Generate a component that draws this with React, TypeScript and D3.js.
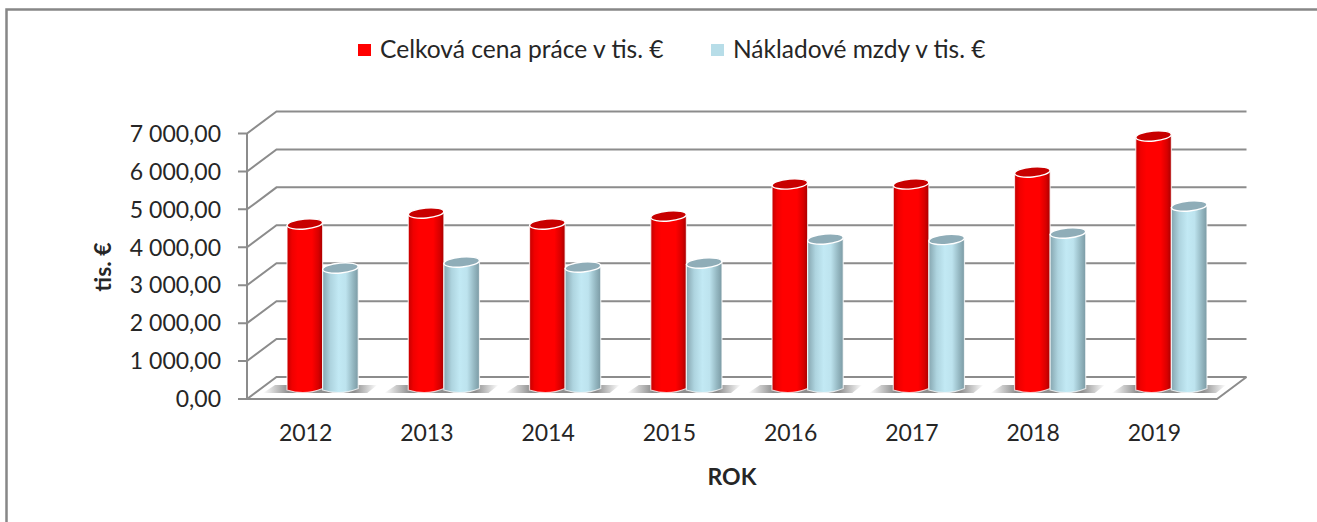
import React from "react";
import * as d3 from "d3";

const years = ["2012", "2013", "2014", "2015", "2016", "2017", "2018", "2019"];
const celkovaCena = [4316, 4605, 4316, 4526, 5370, 5370, 5684, 6632];
const nakladoveMzdy = [3158, 3316, 3184, 3290, 3920, 3910, 4079, 4789];
const tickValues = [0, 1000, 2000, 3000, 4000, 5000, 6000, 7000];
const tickLabels = ["0,00", "1 000,00", "2 000,00", "3 000,00", "4 000,00", "5 000,00", "6 000,00", "7 000,00"];
const seriesNames = ["Celková cena práce v tis. €", "Nákladové mzdy v tis. €"];

const W = 1317, H = 522;
const FONT = "Lato, Carlito, 'Open Sans', sans-serif";
const GRID = "#8c8c8c";
const TEXT = "#262626";

const frontLeft = 247, frontRight = 1217;
const dx = 29.5, dy = -22;
const yFront = d3.scaleLinear().domain([0, 7000]).range([399, 133.5]);
const yBar = d3.scaleLinear().domain([0, 7000]).range([388, 122]);
const xFront = d3.scaleBand().domain(years).range([frontLeft, frontRight]);
const xBar = d3.scaleBand().domain(years).range([frontLeft + 15, frontRight + 15]);
const barW = 35.6;
const RY = 5;

function Bar({ x, value, side, dark }: { x: number; value: number; side: string; dark: string }) {
  const top = yBar(value);
  const base = yBar(0) + 2;
  const rx = barW / 2;
  const cx = x + rx;
  const body = `M${x},${top + 1.5} L${x},${base} Q${x + rx},${base + 6} ${x + barW},${base - 1.5} L${x + barW},${top - 1.5} Z`;
  return (
    <g>
      <path d={body} fill={`url(#${side})`} stroke="#ffffff" strokeOpacity={0.75} strokeWidth={1.2} />
      <ellipse cx={cx} cy={top} rx={rx} ry={RY} fill={dark} stroke="#ffffff" strokeWidth={1.4}
        transform={`rotate(-5 ${cx} ${top})`} />
    </g>
  );
}

export default function App() {
  return (
    <svg width={W} height={H} viewBox={`0 0 ${W} ${H}`}
      style={{ position: "absolute", left: 0, top: 0, display: "block", background: "#fff" }}>
      <defs>
        <linearGradient id="redBar" x1="0" x2="1" y1="0" y2="0">
          <stop offset="0" stopColor="#c40000" />
          <stop offset="0.14" stopColor="#f00000" />
          <stop offset="0.3" stopColor="#ff0000" />
          <stop offset="0.7" stopColor="#ff0000" />
          <stop offset="0.88" stopColor="#d80000" />
          <stop offset="1" stopColor="#a80000" />
        </linearGradient>
        <linearGradient id="blueBar" x1="0" x2="1" y1="0" y2="0">
          <stop offset="0" stopColor="#86a6b0" />
          <stop offset="0.22" stopColor="#aed4df" />
          <stop offset="0.45" stopColor="#c2e9f4" />
          <stop offset="0.65" stopColor="#bde3ee" />
          <stop offset="0.85" stopColor="#95b8c2" />
          <stop offset="1" stopColor="#7b9aa4" />
        </linearGradient>
        <linearGradient id="floorShadow" x1="0" x2="1" y1="0" y2="0">
          <stop offset="0" stopColor="#8f8f8f" stopOpacity={0} />
          <stop offset="0.22" stopColor="#8f8f8f" />
          <stop offset="0.8" stopColor="#8f8f8f" />
          <stop offset="1" stopColor="#8f8f8f" stopOpacity={0} />
        </linearGradient>
      </defs>

      {/* outer frame */}
      <path d={`M${W},9.5 L6.5,9.5 L6.5,${H}`} fill="none" stroke="#878787" strokeWidth={2.5} />

      {/* back wall gridlines */}
      {tickValues.map((t) => {
        const y = yFront(t);
        return (
          <path key={t} fill="none" stroke={GRID} strokeWidth={2}
            d={`M${frontLeft - 9},${y} L${frontLeft},${y} L${frontLeft + dx},${y + dy} L${frontRight + dx},${y + dy}`} />
        );
      })}
      {/* left axis and floor */}
      <path d={`M${frontLeft},${yFront(7000)} L${frontLeft},${yFront(0)}`} fill="none" stroke={GRID} strokeWidth={2} />
      <path d={`M${frontLeft},${yFront(0)} L${frontRight},${yFront(0)} L${frontRight + dx},${yFront(0) + dy}`}
        fill="none" stroke={GRID} strokeWidth={2} />

      {/* shadows on the floor */}
      {years.map((yr) => {
        const x0 = xBar(yr)! + xBar.bandwidth() / 2 - barW;
        return (
          <path key={yr} fill="url(#floorShadow)"
            d={`M${x0 - 24},393 L${x0 - 12},385 L${x0 + 2 * barW + 19},385 L${x0 + 2 * barW + 9},393 Z`} />
        );
      })}

      {/* bars */}
      {years.map((yr, i) => {
        const c = xBar(yr)! + xBar.bandwidth() / 2;
        return (
          <g key={yr}>
            <Bar x={c - barW} value={celkovaCena[i]} side="redBar" dark="#c80000" />
            <Bar x={c} value={nakladoveMzdy[i]} side="blueBar" dark="#8fadb8" />
          </g>
        );
      })}

      {/* value axis labels */}
      {tickValues.map((t, i) => (
        <text key={t} x={221} y={yFront(t)} dy="0.36em" textAnchor="end" fontFamily={FONT} fontSize={23} fill={TEXT}>
          {tickLabels[i]}
        </text>
      ))}
      {/* category labels */}
      {years.map((yr) => (
        <text key={yr} x={xFront(yr)! + xFront.bandwidth() / 2 - 2} y={433} dy="0.36em" textAnchor="middle"
          fontFamily={FONT} fontSize={23} fill={TEXT}>{yr}</text>
      ))}

      {/* axis titles */}
      <text x={732} y={477} dy="0.36em" textAnchor="middle" fontFamily={FONT} fontSize={23} fontWeight={700} fill={TEXT}>ROK</text>
      <text transform="translate(103,267) rotate(-90)" dy="0.36em" textAnchor="middle" fontFamily={FONT}
        fontSize={23} fontWeight={700} fill={TEXT}>tis. €</text>

      {/* legend */}
      <rect x={358} y={44} width={13} height={12} fill="#ff0000" />
      <text x={380} y={49.5} dy="0.36em" fontFamily={FONT} fontSize={24.6} fill={TEXT}>{seriesNames[0]}</text>
      <rect x={711} y={44} width={13} height={12} fill="#b7dde8" />
      <text x={733} y={49.5} dy="0.36em" fontFamily={FONT} fontSize={24.5} fill={TEXT}>{seriesNames[1]}</text>
    </svg>
  );
}
